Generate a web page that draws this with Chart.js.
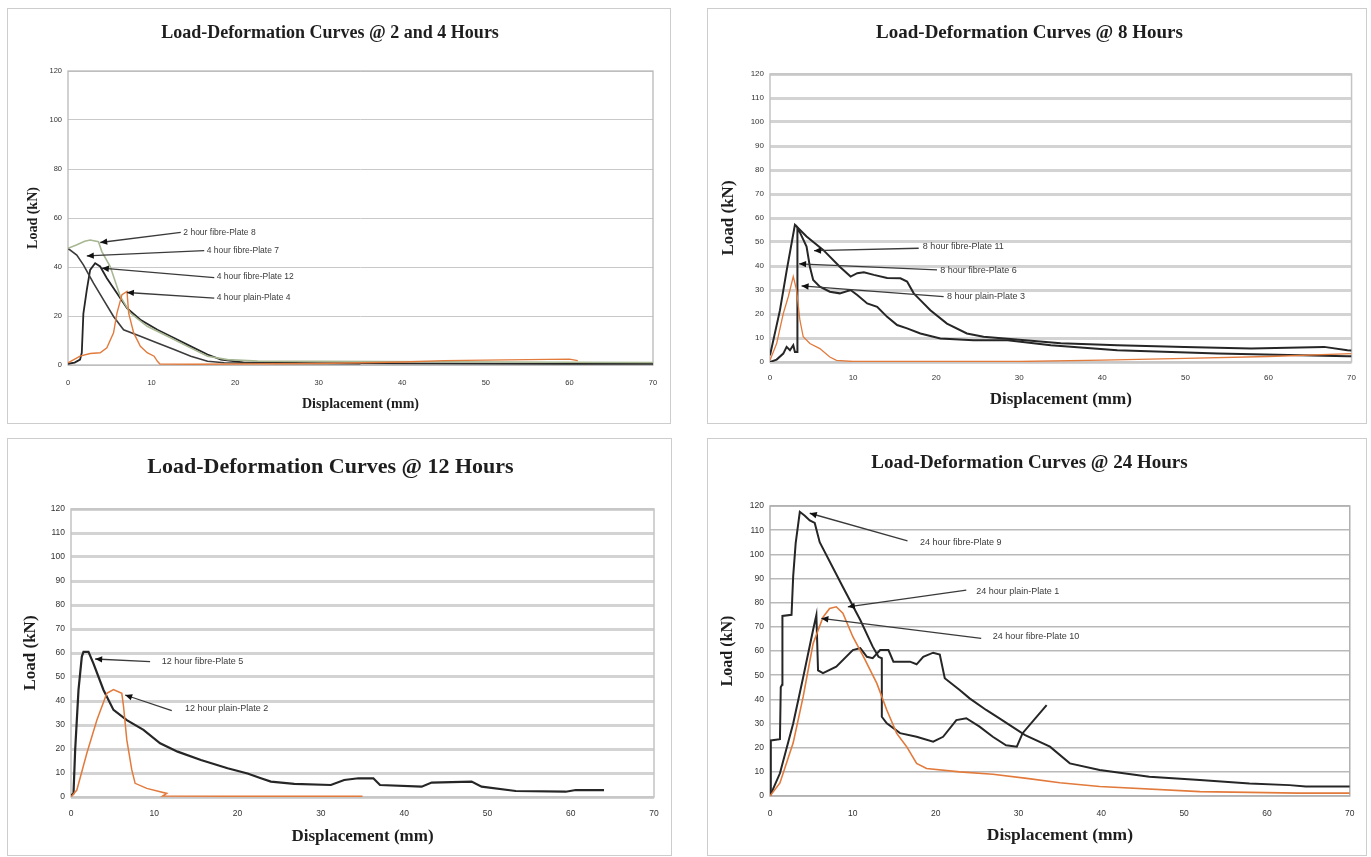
<!DOCTYPE html>
<html><head><meta charset="utf-8">
<script src="https://cdn.jsdelivr.net/npm/chart.js@4.4.1/dist/chart.umd.min.js"></script>
<style>
body{margin:0;background:#fff;width:1371px;height:857px;overflow:hidden;position:relative}
canvas{position:absolute}
.frame{position:absolute;border:1.5px solid #cdcdcd;box-sizing:border-box;pointer-events:none}
</style></head><body>
<canvas id="c1" width="664" height="416" style="left:7px;top:8px"></canvas>
<canvas id="c2" width="660" height="416" style="left:707px;top:8px"></canvas>
<canvas id="c3" width="665" height="418" style="left:7px;top:438px"></canvas>
<canvas id="c4" width="660" height="418" style="left:707px;top:438px"></canvas>
<div class="frame" style="left:7px;top:8px;width:664px;height:416px"></div>
<div class="frame" style="left:707px;top:8px;width:660px;height:416px"></div>
<div class="frame" style="left:7px;top:438px;width:665px;height:418px"></div>
<div class="frame" style="left:707px;top:438px;width:660px;height:418px"></div>
<script>
// ---------- data ----------
const xTicksMax = 70;
const yTicksMax = 120;
const titles = ['Load-Deformation Curves @ 2 and 4 Hours','Load-Deformation Curves @ 8 Hours','Load-Deformation Curves @ 12 Hours','Load-Deformation Curves @ 24 Hours'];
const xTitle = 'Displacement (mm)';
const yTitle = 'Load (kN)';

// Chart 1: 2 and 4 hours
const c1Plate8 = [[0,47.6],[1,49],[2,50.5],[2.65,51],[3.65,50.3],[4.05,46.3],[5.05,40.2],[6.26,28],[7.46,21.2],[9.47,15.8],[11.9,11.7],[14.3,7.6],[16.7,3.6],[19.1,2.2],[22.7,1.6],[30,1.5],[45,1.3],[60,1.1],[70,1]];
const c1Plate7 = [[0,47.6],[1.05,44.9],[1.84,40.9],[3.05,33.4],[4.25,26.6],[5.45,19.8],[6.65,14.4],[8.66,11.7],[10.7,9],[12.7,6.3],[14.7,3.6],[16.7,1.5],[18.7,0.9],[25,0.6],[35,0.5]];
const c1Plate12 = [[0,0.5],[0.8,1],[1.44,2.2],[1.65,5],[1.84,21],[2.25,30.7],[2.65,38.8],[3.25,41.5],[3.85,40.2],[4.65,35.4],[5.86,29.3],[7.06,23.2],[8.66,18.5],[10.7,14.4],[12.7,11],[14.7,7.6],[16.7,4.3],[18.3,2.2],[21,1.1],[30,0.8],[40,0.7],[50,0.6],[60,0.5],[70,0.5]];
const c1Plain4 = [[0,0.9],[1.44,3.6],[2.65,4.7],[3.85,5],[4.65,7],[5.45,13.1],[5.86,21.2],[6.46,28.7],[7.06,30],[7.26,21.2],[7.86,13.1],[8.66,7.6],[9.47,5],[10.3,3.6],[10.7,1.5],[11,0.4],[15,0.3],[30,0.6],[40,1.2],[45,1.8],[55,2.2],[60,2.4],[61,1.8]];
const c1Notes = [
  {label:'2 hour fibre-Plate 8', head:[3.85,50], tail:[13.5,54.1], at:[13.8,54.1]},
  {label:'4 hour fibre-Plate 7', head:[2.25,44.5], tail:[16.3,46.7], at:[16.6,46.7]},
  {label:'4 hour fibre-Plate 12', head:[4.05,39.5], tail:[17.5,35.7], at:[17.8,35.9]},
  {label:'4 hour plain-Plate 4', head:[7.05,29.6], tail:[17.5,27.3], at:[17.8,27.3]}
];

// Chart 2: 8 hours
const c2Plate11 = [[0,2.8],[1.2,21.6],[2,38],[3,57.2],[4.4,52.3],[6.4,46.7],[8.4,39.7],[9.7,35.6],[10.5,37],[11.3,37.4],[12.5,36.3],[14.1,35],[15.7,34.9],[16.5,33.5],[17.3,28.6],[18.1,25.8],[19.3,21.6],[21.3,16],[23.7,11.9],[25.7,10.5],[30,9.3],[35,7.8],[41.8,7],[49.9,6.3],[57.9,5.6],[66.7,6.3],[69.5,4.9],[70,4.8]];
const c2Plate6 = [[0,0],[0.8,1],[1.6,3.5],[2,6.3],[2.4,4.9],[2.8,7],[3,4.2],[3.3,4.2],[3.3,55.8],[3.6,54],[4.4,48.1],[4.8,39.7],[5.2,34.2],[6,31.4],[7.2,29.3],[8.4,28.6],[9.7,30],[10.5,27.9],[11.7,24.4],[12.9,23],[14.1,18.8],[15.3,15.4],[16.5,14],[18.1,11.9],[20.5,9.8],[24.5,9.1],[28.6,9.1],[33.8,7],[41.8,4.9],[53.9,3.5],[69.5,2.4],[70,2.4]];
const c2Plain3 = [[0,0.7],[0.8,7.7],[1.6,20.2],[2.2,27.2],[2.8,35.6],[3.2,30],[3.6,17.4],[4,10.5],[4.8,7.7],[6,5.6],[7.2,2.1],[8,0.7],[10,0.2],[30,0.2],[40,0.8],[50,1.5],[60,2.3],[70,3.5]];
const c2Notes = [
  {label:'8 hour fibre-Plate 11', head:[5.3,46.4], tail:[17.9,47.4], at:[18.4,48]},
  {label:'8 hour fibre-Plate 6', head:[3.5,40.9], tail:[20.1,38.4], at:[20.5,38.2]},
  {label:'8 hour plain-Plate 3', head:[3.8,31.7], tail:[20.9,27.2], at:[21.3,27.3]}
];

// Chart 3: 12 hours
const c3Plate5 = [[0,0.5],[0.3,1.5],[0.5,19.6],[0.9,44.6],[1.3,58.5],[1.5,60.5],[2.1,60.5],[2.7,55.6],[3.9,44.6],[5.1,36.3],[6.7,32],[8.7,28],[10.7,22.4],[12.8,18.9],[15.6,15.4],[18.8,12],[21.2,9.8],[22.8,7.8],[24,6.4],[26.8,5.5],[31.2,5],[32.8,7.1],[34.5,7.8],[36.3,7.8],[37.1,5],[42.1,4.3],[43.3,6],[48.1,6.4],[49.3,4.3],[53.4,2.5],[59.4,2.2],[60.6,2.9],[64,2.9]];
const c3Plain2 = [[0,0],[0.7,2.9],[1.9,18.2],[3.1,32],[4.3,43.2],[5.1,44.8],[6.1,43.2],[6.3,38],[6.7,23.8],[7.3,11.3],[7.7,5.7],[9.1,3.6],[10.7,2.2],[11.5,1.5],[11,0.4],[20,0.3],[35,0.3]];
const c3Notes = [
  {label:'12 hour fibre-Plate 5', head:[2.9,57.5], tail:[9.5,56.4], at:[10.9,56.3]},
  {label:'12 hour plain-Plate 2', head:[6.5,42.5], tail:[12.1,36], at:[13.7,37]}
];

// Chart 4: 24 hours
const c4Plate9 = [[0,1.2],[0.1,23],[1.2,23.5],[1.3,45],[1.45,46],[1.5,74.5],[2.6,75],[2.8,91],[3.1,104.6],[3.6,117.6],[4.2,116],[4.8,114],[5.4,113],[6,105],[8.8,86.5],[10.9,72.8],[12.4,61.8],[13.1,57.6],[13.5,57],[13.5,32.8],[14.1,30.1],[15.7,26],[17.7,24.5],[19.7,22.5],[20.9,24.5],[22.5,31.4],[23.7,32.2],[25.3,28.7],[26.9,24.5],[28.5,21],[29.8,20.4],[30.5,26],[33.4,37.6]];
const c4Plate10 = [[0,0],[1.2,9.4],[2.8,30],[4,49],[5.2,68.7],[5.6,74.9],[5.8,52],[6.4,50.8],[8,53.5],[10,60.4],[10.9,61.2],[11.7,57.6],[12.4,57],[13.3,60.4],[14.3,60.4],[14.9,55.6],[16.9,55.6],[17.7,54.5],[18.5,57.6],[19.7,59.3],[20.5,58.5],[21.1,48.7],[22.9,43.9],[24.1,40.4],[26.1,35.6],[27.7,32.1],[30.8,25.2],[33.8,20.4],[36.2,13.5],[39.8,10.8],[45.8,8],[51.9,6.6],[57.9,5.2],[62.7,4.5],[64.7,3.9],[70,3.9]];
const c4Plain1 = [[0,0],[1.2,5.4],[2.8,22],[4,41],[5.2,63],[6.4,74],[7.2,77.6],[8,78.3],[8.8,75.6],[10,65.9],[11.3,57.6],[12.9,46.6],[14.1,35.6],[15.3,25.9],[16.5,20.4],[17.7,13.5],[18.9,11.4],[22.9,10],[26.9,9],[31,7.3],[35,5.5],[39.8,3.9],[51.9,1.8],[63.8,1.2],[70,1.2]];
const c4Notes = [
  {label:'24 hour fibre-Plate 9', head:[4.8,117], tail:[16.6,105.6], at:[18.1,105]},
  {label:'24 hour plain-Plate 1', head:[9.4,78.3], tail:[23.7,85.2], at:[24.9,84.8]},
  {label:'24 hour fibre-Plate 10', head:[6.2,73.5], tail:[25.5,65.2], at:[26.9,65.8]}
];

// ---------- drawing ----------
const BLACK = '#262626', ORANGE = '#e27a3c', PALE = '#a7b792';

const annotate = {
  id:'annotate',
  beforeDatasetsDraw(chart, args, o){
    const {ctx, chartArea:a} = chart;
    ctx.save();
    ctx.strokeStyle = o.frameColor; ctx.lineWidth = o.frameWidth;
    ctx.strokeRect(a.left, a.top, a.right-a.left, a.bottom-a.top);
    ctx.restore();
  },
  afterDatasetsDraw(chart, args, o){
    const {ctx, scales:{x,y}} = chart;
    ctx.save();
    (o.notes||[]).forEach(n=>{
      const hx=x.getPixelForValue(n.head[0]), hy=y.getPixelForValue(n.head[1]);
      const tx=x.getPixelForValue(n.tail[0]), ty=y.getPixelForValue(n.tail[1]);
      ctx.strokeStyle='#3a3a3a'; ctx.lineWidth=1.3;
      ctx.beginPath(); ctx.moveTo(tx,ty); ctx.lineTo(hx,hy); ctx.stroke();
      const ang=Math.atan2(hy-ty,hx-tx), L=7, W=3.2;
      ctx.fillStyle='#111';
      ctx.beginPath(); ctx.moveTo(hx,hy);
      ctx.lineTo(hx-L*Math.cos(ang)+W*Math.sin(ang), hy-L*Math.sin(ang)-W*Math.cos(ang));
      ctx.lineTo(hx-L*Math.cos(ang)-W*Math.sin(ang), hy-L*Math.sin(ang)+W*Math.cos(ang));
      ctx.closePath(); ctx.fill();
      ctx.font = o.noteFont; ctx.fillStyle='#3a3a3a'; ctx.textBaseline='middle'; ctx.textAlign='left';
      ctx.fillText(n.label, x.getPixelForValue(n.at[0]), y.getPixelForValue(n.at[1]));
    });
    ctx.restore();
  }
};

function ds(arr, color, w){
  return {data: arr.map(([x,y])=>({x,y})), borderColor: color, borderWidth: w, showLine: true, pointRadius: 0, tension: 0, fill: false};
}

function makeChart(id, title, series, notes, g){
  new Chart(document.getElementById(id), {
    type: 'scatter',
    data: {datasets: series},
    plugins: [annotate],
    options: {
      responsive: false, animation: false, devicePixelRatio: 1,
      layout: {padding: {left: 0, top: 0, bottom: 0, right: g.right}},
      plugins: {
        legend: {display: false}, tooltip: {enabled: false},
        title: {display: true, text: title, color: '#1e1e1e',
          font: {family: 'Liberation Serif', size: g.titleSize, weight: 'bold', lineHeight: 1.2},
          padding: {top: g.titlePadTop, bottom: g.titlePadBottom}},
        annotate: {notes, frameColor: g.frameColor, frameWidth: g.frameWidth, noteFont: g.noteFont}
      },
      scales: {
        x: {type: 'linear', min: 0, max: xTicksMax,
          ticks: {stepSize: 10, color: '#333', padding: g.xTickPad, font: {family: 'Liberation Sans', size: g.tickSize}, maxRotation: 0},
          grid: {display: false, drawTicks: false},
          border: {display: false},
          title: {display: true, text: xTitle, color: '#1e1e1e', font: {family: 'Liberation Serif', size: g.xTitleSize, weight: 'bold', lineHeight: 1.2}, padding: {top: 0, bottom: g.xTitlePad}},
          afterFit: s => { s.height = g.bottomH; }
        },
        y: {type: 'linear', min: 0, max: yTicksMax,
          ticks: {stepSize: g.yStep, color: '#333', padding: g.yTickPad, font: {family: 'Liberation Sans', size: g.tickSize}},
          grid: {color: g.gridColor, lineWidth: g.gridWidth, drawTicks: false},
          border: {display: false},
          title: {display: true, text: yTitle, color: '#1e1e1e', font: {family: 'Liberation Serif', size: g.yTitleSize, weight: 'bold', lineHeight: 1.2}, padding: {top: g.yTitlePad, bottom: 0}},
          afterFit: s => { s.width = g.left; }
        }
      }
    }
  });
}

makeChart('c1', titles[0], [
  ds(c1Plain4, ORANGE, 1.4), ds(c1Plate8, PALE, 1.6), ds(c1Plate7, '#3c3c3c', 1.6), ds(c1Plate12, BLACK, 1.8)
], c1Notes, {left:61, right:18, bottomH:59, titleSize:18, titlePadTop:14.2, titlePadBottom:27.2,
  xTitleSize:14, xTitlePad:11.6, yTitleSize:14, yTitlePad:17.6, tickSize:7.5, xTickPad:13, yTickPad:6,
  gridColor:'#c9c9c9', gridWidth:1, yStep:20, frameColor:'#b9b9b9', frameWidth:1.3, noteFont:'8.5px "Liberation Sans"'});

makeChart('c2', titles[1], [
  ds(c2Plain3, ORANGE, 1.3), ds(c2Plate6, BLACK, 2), ds(c2Plate11, BLACK, 2)
], c2Notes, {left:63, right:15, bottomH:62, titleSize:19, titlePadTop:13.6, titlePadBottom:29.6,
  xTitleSize:17, xTitlePad:13.8, yTitleSize:17, yTitlePad:11.8, tickSize:8, xTickPad:11, yTickPad:6,
  gridColor:'#d3d3d3', gridWidth:3, yStep:10, frameColor:'#c4c4c4', frameWidth:1.5, noteFont:'9px "Liberation Sans"'});

makeChart('c3', titles[2], [
  ds(c3Plain2, ORANGE, 1.5), ds(c3Plate5, BLACK, 2.2)
], c3Notes, {left:64, right:18, bottomH:59, titleSize:22, titlePadTop:15.8, titlePadBottom:28.8,
  xTitleSize:17, xTitlePad:8.8, yTitleSize:17, yTitlePad:13.8, tickSize:8.5, xTickPad:12, yTickPad:6,
  gridColor:'#d3d3d3', gridWidth:3, yStep:10, frameColor:'#c4c4c4', frameWidth:1.5, noteFont:'9px "Liberation Sans"'});

makeChart('c4', titles[3], [
  ds(c4Plain1, ORANGE, 1.6), ds(c4Plate10, BLACK, 2), ds(c4Plate9, BLACK, 2)
], c4Notes, {left:63, right:15, bottomH:60, titleSize:19, titlePadTop:13.6, titlePadBottom:31.6,
  xTitleSize:17.5, xTitlePad:10.5, yTitleSize:16, yTitlePad:11.4, tickSize:8.5, xTickPad:12.5, yTickPad:6,
  gridColor:'#b9b9b9', gridWidth:1.5, yStep:10, frameColor:'#b0b0b0', frameWidth:1.5, noteFont:'9px "Liberation Sans"'});
</script>
</body></html>
